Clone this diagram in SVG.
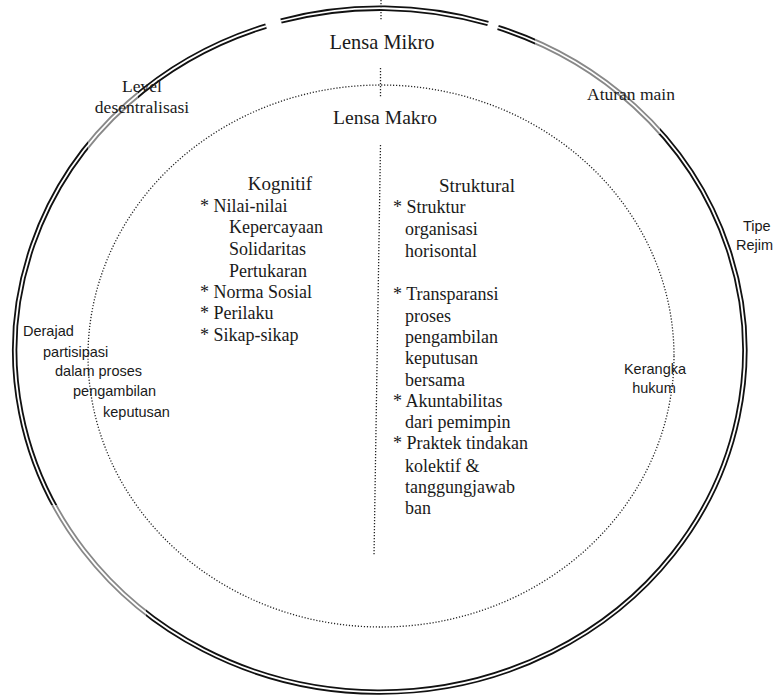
<svg xmlns="http://www.w3.org/2000/svg" width="776" height="695" viewBox="0 0 776 695">
<style>
.ring{fill:none;stroke:#111;stroke-width:5.4}
.gap{fill:none;stroke:#fff;stroke-width:1.8}
.dot{fill:none;stroke:#222;stroke-width:1.3;stroke-dasharray:1.2 1.8}
.fade{fill:#fff;opacity:0.5}
.serif{font-family:'Liberation Serif','Times New Roman',serif;fill:#1a1a1a}
.lens{font-size:20.4px}
.head{font-size:19px}
.item{font-size:18px}
.lbl{font-size:17.5px}
.sans{font-family:'Liberation Sans','DejaVu Sans',sans-serif;font-size:14.5px;fill:#1a1a1a}
</style>
<rect width="776" height="695" fill="#fff"/>
<g id="outer-ring">
<path class="ring" d="M281,21 A365,341.5 0 0 1 488,23.5"/>
<path class="gap" d="M281,21 A365,341.5 0 0 1 488,23.5"/>
<path class="ring" d="M498,27.5 A365,341.5 0 1 1 266,26.1"/>
<path class="gap" d="M498,27.5 A365,341.5 0 1 1 266,26.1"/>
</g>
<g id="fades">
<rect class="fade" x="88" y="92" width="50" height="62"/>
<rect class="fade" x="535" y="38" width="125" height="96"/>
<rect class="fade" x="50" y="505" width="96" height="112"/>
</g>
<g id="connectors">
<ellipse class="dot" cx="381" cy="356" rx="293" ry="271"/>
<line class="dot" x1="381" y1="0" x2="381" y2="21"/>
<line class="dot" x1="380.5" y1="68" x2="380.5" y2="98"/>
<line class="dot" x1="380.5" y1="145" x2="374" y2="556"/>
</g>
<g id="lensa-mikro" class="serif"><text class="lens" x="382" y="49" text-anchor="middle">Lensa Mikro</text></g>
<g id="lensa-makro" class="serif"><text x="385" y="124" text-anchor="middle" font-size="19.6">Lensa Makro</text></g>
<g id="level" class="serif"><text class="lbl" x="142" y="92" text-anchor="middle">Level</text><text class="lbl" x="142" y="113" text-anchor="middle">desentralisasi</text></g>
<g id="aturan" class="serif"><text class="lbl" x="631" y="100" text-anchor="middle">Aturan main</text></g>
<g id="tipe" class="sans"><text x="743" y="231">Tipe</text><text x="736" y="250">Rejim</text></g>
<g id="kerangka" class="sans"><text x="655" y="374" text-anchor="middle">Kerangka</text><text x="654" y="393" text-anchor="middle">hukum</text></g>
<g id="derajad" class="sans">
<text x="23" y="336">Derajad</text>
<text x="43" y="357">partisipasi</text>
<text x="55" y="376">dalam proses</text>
<text x="73" y="396">pengambilan</text>
<text x="103" y="417">keputusan</text>
</g>
<g id="kognitif" class="serif">
<text class="head" x="280" y="190" text-anchor="middle">Kognitif</text>
<text class="item" x="200" y="212">* Nilai-nilai</text>
<text class="item" x="229" y="233">Kepercayaan</text>
<text class="item" x="229" y="255">Solidaritas</text>
<text class="item" x="229" y="277">Pertukaran</text>
<text class="item" x="200" y="298">* Norma Sosial</text>
<text class="item" x="200" y="319">* Perilaku</text>
<text class="item" x="200" y="341">* Sikap-sikap</text>
</g>
<g id="struktural" class="serif">
<text class="head" x="477" y="192" text-anchor="middle">Struktural</text>
<text class="item" x="393" y="213">* Struktur</text>
<text class="item" x="405" y="235">organisasi</text>
<text class="item" x="405" y="257">horisontal</text>
<text class="item" x="393" y="300">* Transparansi</text>
<text class="item" x="405" y="322">proses</text>
<text class="item" x="405" y="343">pengambilan</text>
<text class="item" x="405" y="364">keputusan</text>
<text class="item" x="405" y="386">bersama</text>
<text class="item" x="393" y="407">* Akuntabilitas</text>
<text class="item" x="405" y="428">dari pemimpin</text>
<text class="item" x="393" y="449">* Praktek tindakan</text>
<text class="item" x="405" y="472">kolektif &amp;</text>
<text class="item" x="405" y="493">tanggungjawab</text>
<text class="item" x="405" y="514">ban</text>
</g>
</svg>
